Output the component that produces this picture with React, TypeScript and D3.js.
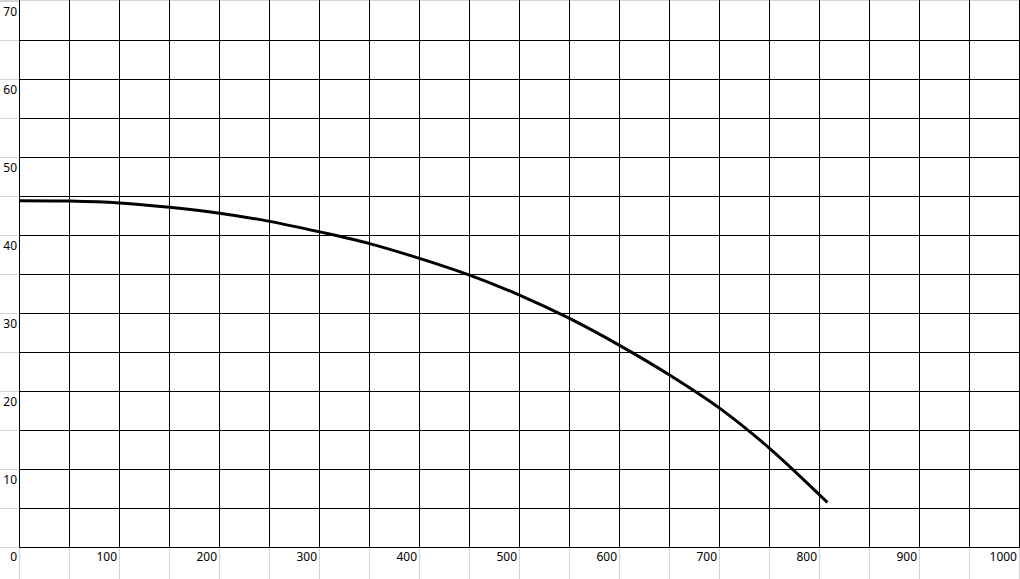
import React from "react";
import * as d3 from "d3";

const curveX = [0, 50, 100, 150, 200, 250, 300, 350, 400, 450, 500, 550, 600, 650, 700, 750, 808];
const curveY = [44.4, 44.35, 44.1, 43.55, 42.8, 41.75, 40.4, 38.9, 37.0, 34.85, 32.3, 29.3, 25.85, 22.05, 17.8, 12.65, 5.7];
const xTickLabels = [0, 100, 200, 300, 400, 500, 600, 700, 800, 900, 1000];
const yTickLabels = [10, 20, 30, 40, 50, 60, 70];

const W = 1020;
const H = 579;

export default function App() {
  const x = d3.scaleLinear().domain([0, 1000]).range([19, 1019]);
  const y = d3.scaleLinear().domain([0, 70]).range([547, 1]);
  const vGrid = d3.range(0, 1001, 50);
  const hGrid = d3.range(0, 71, 5);
  const line = d3
    .line<number>()
    .x((_, i) => x(curveX[i]) + 0.5)
    .y((d) => y(d))
    .curve(d3.curveCatmullRom.alpha(0.5));
  const font = "'Noto Sans', 'Open Sans', sans-serif";
  const px = (v: number) => Math.round(x(v)) + 0.5;
  const py = (v: number) => Math.round(y(v)) + 0.5;
  return (
    <div style={{ position: "fixed", left: 0, top: 0 }}>
      <svg width={W} height={H} style={{ display: "block", background: "#fff" }}>
        {/* spreadsheet light gridlines */}
        <line x1={0} x2={W} y1={0.5} y2={0.5} stroke="#d4d4d4" />
        {hGrid.map((v) => (
          <line key={"lh" + v} x1={0} x2={px(0)} y1={py(v)} y2={py(v)} stroke="#d4d4d4" />
        ))}
        {vGrid.map((v) => (
          <line key={"lv" + v} x1={px(v)} x2={px(v)} y1={py(0)} y2={H} stroke="#d4d4d4" />
        ))}
        {/* chart gridlines */}
        {hGrid.map((v) =>
          v === 70 ? null : (
            <line key={"h" + v} x1={px(0)} x2={W} y1={py(v)} y2={py(v)} stroke="#000" />
          )
        )}
        {vGrid.map((v) => (
          <line key={"v" + v} x1={px(v)} x2={px(v)} y1={0} y2={py(0)} stroke="#000" />
        ))}
        {/* curve */}
        <path d={line(curveY) || ""} fill="none" stroke="#000" strokeWidth={3} strokeLinejoin="round" />
        {/* labels */}
        {yTickLabels.map((v) => (
          <text
            key={"yl" + v}
            x={17}
            y={y(v) + 12}
            textAnchor="end"
            dominantBaseline="middle"
            fontFamily={font}
            fontSize={12}
            fill="#000"
          >
            {v}
          </text>
        ))}
        {xTickLabels.map((v) => (
          <text
            key={"xl" + v}
            x={x(v) - 2}
            y={558}
            textAnchor="end"
            dominantBaseline="middle"
            fontFamily={font}
            fontSize={12}
            fill="#000"
          >
            {v}
          </text>
        ))}
      </svg>
    </div>
  );
}
